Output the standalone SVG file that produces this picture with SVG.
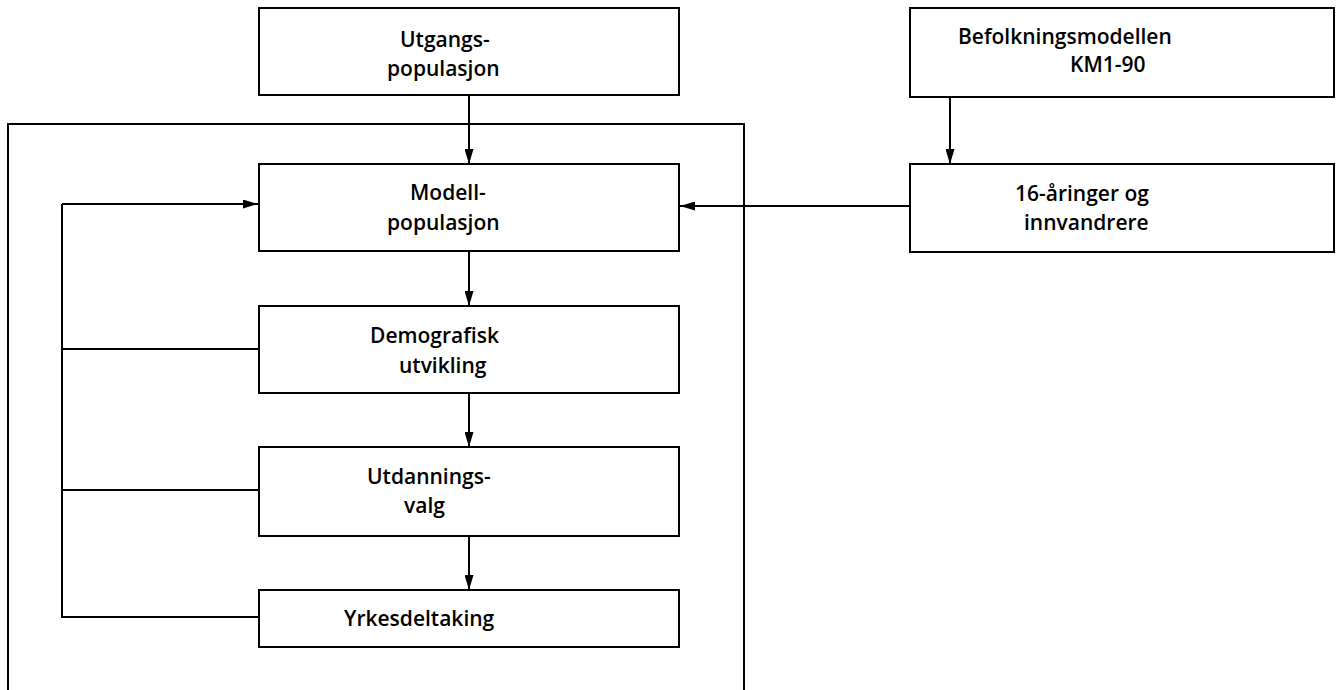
<svg xmlns="http://www.w3.org/2000/svg" width="1336" height="690" viewBox="0 0 1336 690">
  <style>
    .box { fill: #fff; stroke: #000; stroke-width: 2; }
    .frame { fill: none; stroke: #000; stroke-width: 2; }
    .line { fill: none; stroke: #000; stroke-width: 2; }
    .arrow { fill: none; stroke: #000; stroke-width: 2; marker-end: url(#head); }
    text { font-family: "Open Sans", "Liberation Sans", sans-serif; font-weight: 600; font-size: 21px; fill: #000; }
  </style>
  <defs>
    <marker id="head" viewBox="0 0 15 9" refX="15" refY="4.5" markerWidth="15" markerHeight="9" markerUnits="userSpaceOnUse" orient="auto">
      <path d="M0,0 L15,4.5 L0,9 Z" fill="#000"/>
    </marker>
  </defs>
  <rect width="1336" height="690" fill="#fff"/>

  <!-- simulation model frame, open at the bottom -->
  <path class="frame" d="M8,700 V124 H744 V700"/>

  <g id="connectors">
    <line class="arrow" x1="469" y1="95" x2="469" y2="164"/>
    <line class="arrow" x1="469" y1="251" x2="469" y2="306"/>
    <line class="arrow" x1="469" y1="393" x2="469" y2="447"/>
    <line class="arrow" x1="469" y1="536" x2="469" y2="590"/>
    <line class="arrow" x1="950" y1="97" x2="950" y2="164"/>
    <line class="arrow" x1="910" y1="206" x2="680" y2="206"/>
    <!-- feedback loop back to the model population -->
    <path class="line" d="M259,617 H62 V204"/>
    <line class="line" x1="62" y1="349" x2="259" y2="349"/>
    <line class="line" x1="62" y1="490" x2="259" y2="490"/>
    <line class="arrow" x1="62" y1="204" x2="258" y2="204"/>
  </g>

  <g id="utgangspopulasjon">
    <rect class="box" x="259" y="8" width="420" height="87"/>
    <text x="400" y="47">Utgangs-</text>
    <text x="387" y="76">populasjon</text>
  </g>
  <g id="befolkningsmodellen">
    <rect class="box" x="910" y="8" width="424" height="89"/>
    <text x="958" y="44">Befolkningsmodellen</text>
    <text x="1070" y="72">KM1-90</text>
  </g>
  <g id="modellpopulasjon">
    <rect class="box" x="259" y="164" width="420" height="87"/>
    <text x="410" y="200">Modell-</text>
    <text x="387" y="230">populasjon</text>
  </g>
  <g id="sekstenaaringer">
    <rect class="box" x="910" y="164" width="424" height="88"/>
    <text x="1015" y="201">16-åringer og</text>
    <text x="1024" y="230">innvandrere</text>
  </g>
  <g id="demografisk">
    <rect class="box" x="259" y="306" width="420" height="87"/>
    <text x="370" y="343">Demografisk</text>
    <text x="399" y="373">utvikling</text>
  </g>
  <g id="utdanningsvalg">
    <rect class="box" x="259" y="447" width="420" height="89"/>
    <text x="367" y="484">Utdannings-</text>
    <text x="404" y="513">valg</text>
  </g>
  <g id="yrkesdeltaking">
    <rect class="box" x="259" y="590" width="420" height="57"/>
    <text x="344" y="626">Yrkesdeltaking</text>
  </g>
</svg>
